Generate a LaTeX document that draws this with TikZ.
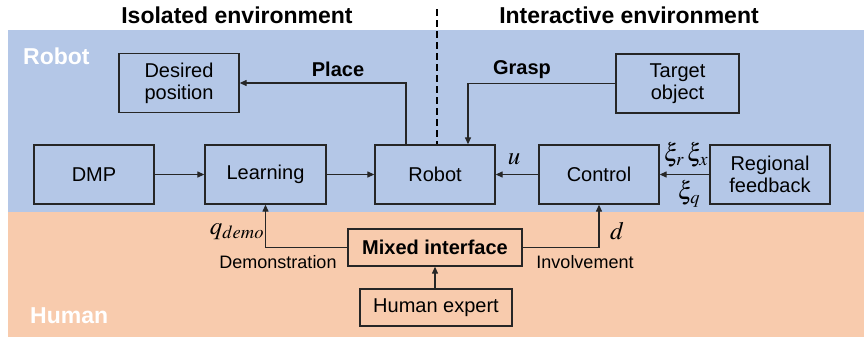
\documentclass[tikz,border=0pt]{standalone}
\usepackage{mathptmx}
\usepackage{fontspec}
\setmainfont{Liberation Sans}
\usetikzlibrary{arrows.meta,positioning}
\definecolor{robotbg}{HTML}{B4C7E7}
\definecolor{humanbg}{HTML}{F8CBAD}
\definecolor{edge}{HTML}{262626}
\tikzset{
  blk/.style={draw=edge,line width=1.3pt,minimum width=#1,minimum height=59pt,
    align=center,inner sep=0pt,font=\fontsize{20}{22}\selectfont},
  blk/.default=120pt,
  conn/.style={draw=edge,line width=1.2pt,-{Triangle[length=7pt,width=6pt]}},
  lbl/.style={font=\fontsize{20}{22}\selectfont\bfseries,inner sep=0pt},
  small/.style={font=\fontsize{18}{20}\selectfont,inner sep=0pt},
  mth/.style={font=\fontsize{25}{27}\selectfont,inner sep=0pt},
  zone/.style={font=\fontsize{23}{25}\selectfont\bfseries,text=white,inner sep=0pt,anchor=west},
  title/.style={font=\fontsize{23}{25}\selectfont\bfseries,inner sep=0pt}
}
\begin{document}
\begin{tikzpicture}[x=1pt,y=-1pt]
\useasboundingbox (0,0) rectangle (864,341);
% background zones
\fill[robotbg] (8,30) rectangle (864,212);
\fill[humanbg] (8,212) rectangle (864,337);
\node[zone] (zrobot) at (23,56) {Robot};
\node[zone] (zhuman) at (30,316) {Human};
% headings
\node[title] (tiso) at (237,15) {Isolated environment};
\node[title] (tint) at (629,15) {Interactive environment};
% blocks
\node[blk] (des) at (179,83) {Desired\\position};
\node[blk=123pt] (tgt) at (677.5,83.5) {Target\\object};
\node[blk] (dmp) at (94,174.5) {DMP};
\node[blk=121pt] (learn) at (265.5,174.5) {Learning};
\node[blk] (robot) at (435,174.5) {Robot};
\node[blk] (ctrl) at (599,174.5) {Control};
\node[blk] (reg) at (770,174.5) {Regional\\feedback};
\node[blk=174pt,minimum height=37pt,font=\fontsize{20}{22}\selectfont\bfseries] (mix) at (435,247.5) {Mixed interface};
\node[blk=152pt,minimum height=37pt] (hum) at (436,307.5) {Human expert};
% divider between the two environments
\coordinate (divtop) at (437,9);
\draw[black,line width=2pt,dash pattern=on 7pt off 4pt] (divtop) -- (divtop |- robot.north);
% connectors
\draw[conn] (dmp) -- (learn);
\draw[conn] (learn) -- (robot);
\draw[conn] (ctrl) -- (robot);
\draw[conn] (reg) -- (ctrl);
\draw[conn] (robot.north -| 406,0) |- (des.east);
\draw[conn] (tgt.west) -| (468,0 |- robot.north);
\draw[conn] (mix.west) -| (learn.south);
\draw[conn] (mix.east) -| (ctrl.south);
\draw[conn] (hum.north -| mix.south) -- (mix.south);
% labels
\node[lbl] (lplace) at (338,69) {Place};
\node[lbl] (lgrasp) at (522,70) {Grasp};
\node[mth] (lu) at (514,159) {$u$};
\node[mth] (lxi) at (686,155) {$\xi_r\,\xi_x$};
\node[mth] (lxq) at (689,194) {$\xi_q$};
\node[mth] (lq) at (237,232) {$q_{demo}$};
\node[mth] (ld) at (617,231) {$d$};
\node[small] (ldemo) at (278,262) {Demonstration};
\node[small] (linv) at (585,262) {Involvement};
\end{tikzpicture}
\end{document}
